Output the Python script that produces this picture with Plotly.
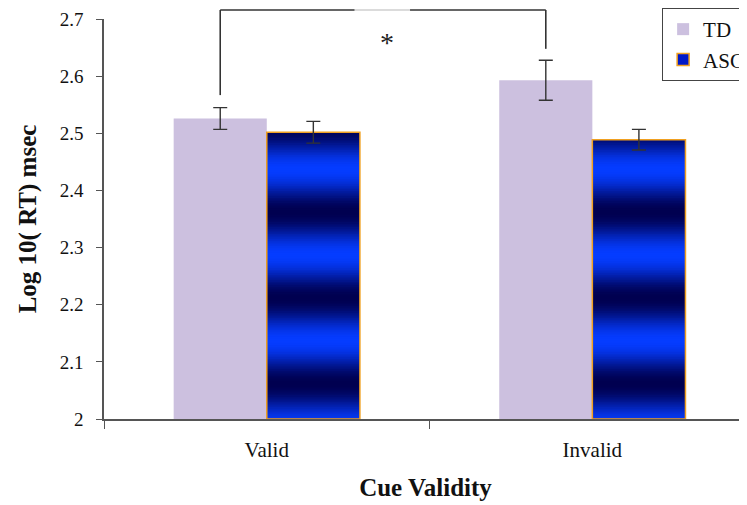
import plotly.graph_objects as go
import numpy as np

categories = ["Valid", "Invalid"]
td_values = [2.526, 2.593]
td_errors = [0.019, 0.035]
asc_values = [2.502, 2.489]
asc_errors = [0.019, 0.018]
y_ticks = [2, 2.1, 2.2, 2.3, 2.4, 2.5, 2.6, 2.7]
y_tick_labels = ["2", "2.1", "2.2", "2.3", "2.4", "2.5", "2.6", "2.7"]

Y_MIN, Y_MAX = 2.0, 2.7002
X_MIN, X_MAX = -0.5, 1.475
BAR_W = 0.286
FONT = "Liberation Serif"
TD_COLOR = "#ccc0df"
ERR_COLOR = "#333333"
ORANGE = "#f0a020"
TOP_M = 11
PLOT_H = 497 - TOP_M - 86

# gradient styling for the ASC bars (colour bands along the bar height)
DARK = np.array([0, 0, 80])
BRIGHT = np.array([5, 60, 255])
PERIOD = 0.15
DARK_AT = 2.512
STEP = 0.003


def band_color(y):
    t = (1 - np.cos(2 * np.pi * (y - DARK_AT) / PERIOD)) / 2
    c = DARK + (BRIGHT - DARK) * t
    return "rgb(%d,%d,%d)" % tuple(int(round(v)) for v in c)


# slices drawn bottom-up, each reaching the bar top, so no seams appear
sx, sy, sb, sc = [], [], [], []
for cat, val in zip(categories, asc_values):
    b = Y_MIN
    while b < val - 1e-9:
        h = min(STEP, val - b)
        sx.append(cat)
        sy.append(val - b)
        sb.append(b)
        sc.append(band_color(b + h / 2))
        b += STEP

fig = go.Figure()

fig.add_trace(go.Bar(
    x=categories, y=td_values, name="TD", legendgroup="td",
    offset=-BAR_W, width=BAR_W,
    marker=dict(color=TD_COLOR, line=dict(width=0)),
    error_y=dict(type="data", array=td_errors, color=ERR_COLOR, thickness=1.4, width=7),
))

# legend entry for ASC
fig.add_trace(go.Bar(
    x=categories, y=[None, None], name="ASC", legendgroup="asc",
    offset=0, width=BAR_W,
    marker=dict(color="#0018c8", line=dict(color=ORANGE, width=1.5)),
))

# gradient slices
fig.add_trace(go.Bar(
    x=sx, y=sy, base=sb, showlegend=False, hoverinfo="skip",
    offset=0, width=BAR_W,
    marker=dict(color=sc, line=dict(width=0)),
))

# outline + error bars
fig.add_trace(go.Bar(
    x=categories, y=[v - Y_MIN for v in asc_values], base=[Y_MIN, Y_MIN],
    showlegend=False, name="ASC",
    offset=0, width=BAR_W,
    marker=dict(color="rgba(0,0,0,0)", line=dict(color=ORANGE, width=1.5)),
    error_y=dict(type="data", array=asc_errors, color=ERR_COLOR, thickness=1.4, width=7),
))


def px_(x):
    return (x - X_MIN) / (X_MAX - X_MIN)


def py_(y):
    return (y - Y_MIN) / (Y_MAX - Y_MIN)


# significance bracket between TD bars
left_x = px_(0 - BAR_W / 2)
right_x = px_(1 - BAR_W / 2)
top_y = 1 + (TOP_M - 2) / PLOT_H
left_bot = py_(td_values[0] + td_errors[0] + 0.022)
right_bot = py_(td_values[1] + td_errors[1] + 0.02)
gap_l = px_(0.27)
gap_r = px_(0.44)
line_style = dict(color=ERR_COLOR, width=1.6)
shapes = [
    dict(type="line", xref="paper", yref="paper", x0=left_x, x1=left_x, y0=left_bot, y1=top_y, line=line_style),
    dict(type="line", xref="paper", yref="paper", x0=right_x, x1=right_x, y0=right_bot, y1=top_y, line=line_style),
    dict(type="line", xref="paper", yref="paper", x0=left_x, x1=gap_l, y0=top_y, y1=top_y, line=line_style),
    dict(type="line", xref="paper", yref="paper", x0=gap_l, x1=gap_r, y0=top_y, y1=top_y, line=dict(color="#cfcfcf", width=1.6)),
    dict(type="line", xref="paper", yref="paper", x0=gap_r, x1=right_x, y0=top_y, y1=top_y, line=line_style),
]

fig.update_layout(
    width=739, height=497,
    margin=dict(l=96, r=0, t=TOP_M, b=86, autoexpand=False),
    paper_bgcolor="white", plot_bgcolor="white",
    barmode="overlay",
    showlegend=True,
    font=dict(family=FONT, color="#111111"),
    shapes=shapes,
    annotations=[dict(text="*", xref="paper", yref="paper", x=px_(0.37), y=py_(2.69),
                      showarrow=False, font=dict(family=FONT, size=28, color="#222"))],
    legend=dict(x=0.868, y=1 + TOP_M / PLOT_H, xanchor="left", yanchor="top",
                bordercolor="#444444", borderwidth=1, bgcolor="white",
                font=dict(family=FONT, size=21, color="#111"),
                traceorder="grouped", tracegroupgap=0,
                itemwidth=30),
    xaxis=dict(
        type="category", range=[X_MIN, X_MAX], automargin=False,
        showline=True, linecolor="#555555", linewidth=1.5,
        ticks="outside", tickson="boundaries", ticklen=8, tickcolor="#555555", tickwidth=1,
        ticklabelstandoff=11,
        tickfont=dict(family=FONT, size=21, color="#111"),
        title=dict(text="<b>Cue Validity</b>", font=dict(family=FONT, size=25, color="#111"), standoff=18),
        showgrid=False, zeroline=False,
    ),
    yaxis=dict(
        range=[Y_MIN, Y_MAX], tickvals=y_ticks, ticktext=y_tick_labels, automargin=False,
        showline=True, linecolor="#555555", linewidth=1.5,
        ticks="outside", ticklen=6, tickcolor="#555555", tickwidth=1,
        ticklabelstandoff=9, ticklabeloverflow="allow",
        tickfont=dict(family=FONT, size=19, color="#111"),
        title=dict(text="<b>Log 10( RT) msec</b>", font=dict(family=FONT, size=25, color="#111"), standoff=16),
        showgrid=False, zeroline=False,
    ),
)

fig.write_html("out.html")
